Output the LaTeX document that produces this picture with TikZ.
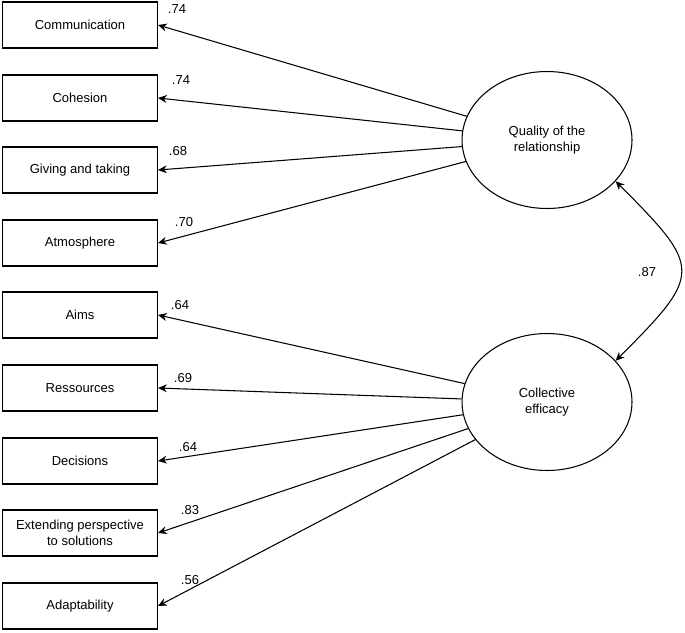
\documentclass[tikz,border=0pt]{standalone}
\usepackage{fontspec}
\setmainfont{Liberation Sans}
\usetikzlibrary{arrows.meta,shapes.geometric}

\begin{document}
\begin{tikzpicture}
  [x=0.02cm,y=-0.02cm,>={Stealth[length=5pt,width=4.5pt]},line width=.6pt,
   every node/.style={font=\fontsize{7.4}{8.8}\selectfont},
   ind/.style={draw,minimum width=3.1cm,minimum height=.92cm,align=center,inner sep=1pt},
   lat/.style={draw,ellipse,minimum width=3.4cm,minimum height=2.74cm,align=center},
   wt/.style={inner sep=0pt}]
  \useasboundingbox (0,0) rectangle (685,632);

  \node[lat] (qual) at (547,140) {Quality of the\\relationship};
  \node[lat] (coll) at (547,402) {Collective\\efficacy};

  \node[ind] (comm) at (80,25)  {Communication};
  \node[ind] (coh)  at (80,98)  {Cohesion};
  \node[ind] (give) at (80,170) {Giving and taking};
  \node[ind] (atmo) at (80,243) {Atmosphere};
  \node[ind] (aims) at (80,315) {Aims};
  \node[ind] (ress) at (80,388) {Ressources};
  \node[ind] (deci) at (80,461) {Decisions};
  \node[ind] (ext)  at (80,533) {Extending perspective\\to solutions};
  \node[ind] (adap) at (80,606) {Adaptability};

  \node[wt] (w1) at (177,9)   {.74};
  \node[wt] (w2) at (181,80)  {.74};
  \node[wt] (w3) at (178,151) {.68};
  \node[wt] (w4) at (184,222) {.70};
  \node[wt] (w5) at (180,305) {.64};
  \node[wt] (w6) at (183,378) {.69};
  \node[wt] (w7) at (188,447) {.64};
  \node[wt] (w8) at (190,510) {.83};
  \node[wt] (w9) at (190,580) {.56};
  \node[wt] (w10) at (647,272) {.87};

  \draw[->] (qual) -- (comm.east);
  \draw[->] (qual) -- (coh.east);
  \draw[->] (qual) -- (give.east);
  \draw[->] (qual) -- (atmo.east);
  \draw[->] (coll) -- (aims.east);
  \draw[->] (coll) -- (ress.east);
  \draw[->] (coll) -- (deci.east);
  \draw[->] (coll) -- (ext.east);
  \draw[->] (coll) -- (adap.east);

  \draw[<->] (qual.-31) .. controls +(87,87) and +(87,-87) .. (coll.31);
\end{tikzpicture}
\end{document}
